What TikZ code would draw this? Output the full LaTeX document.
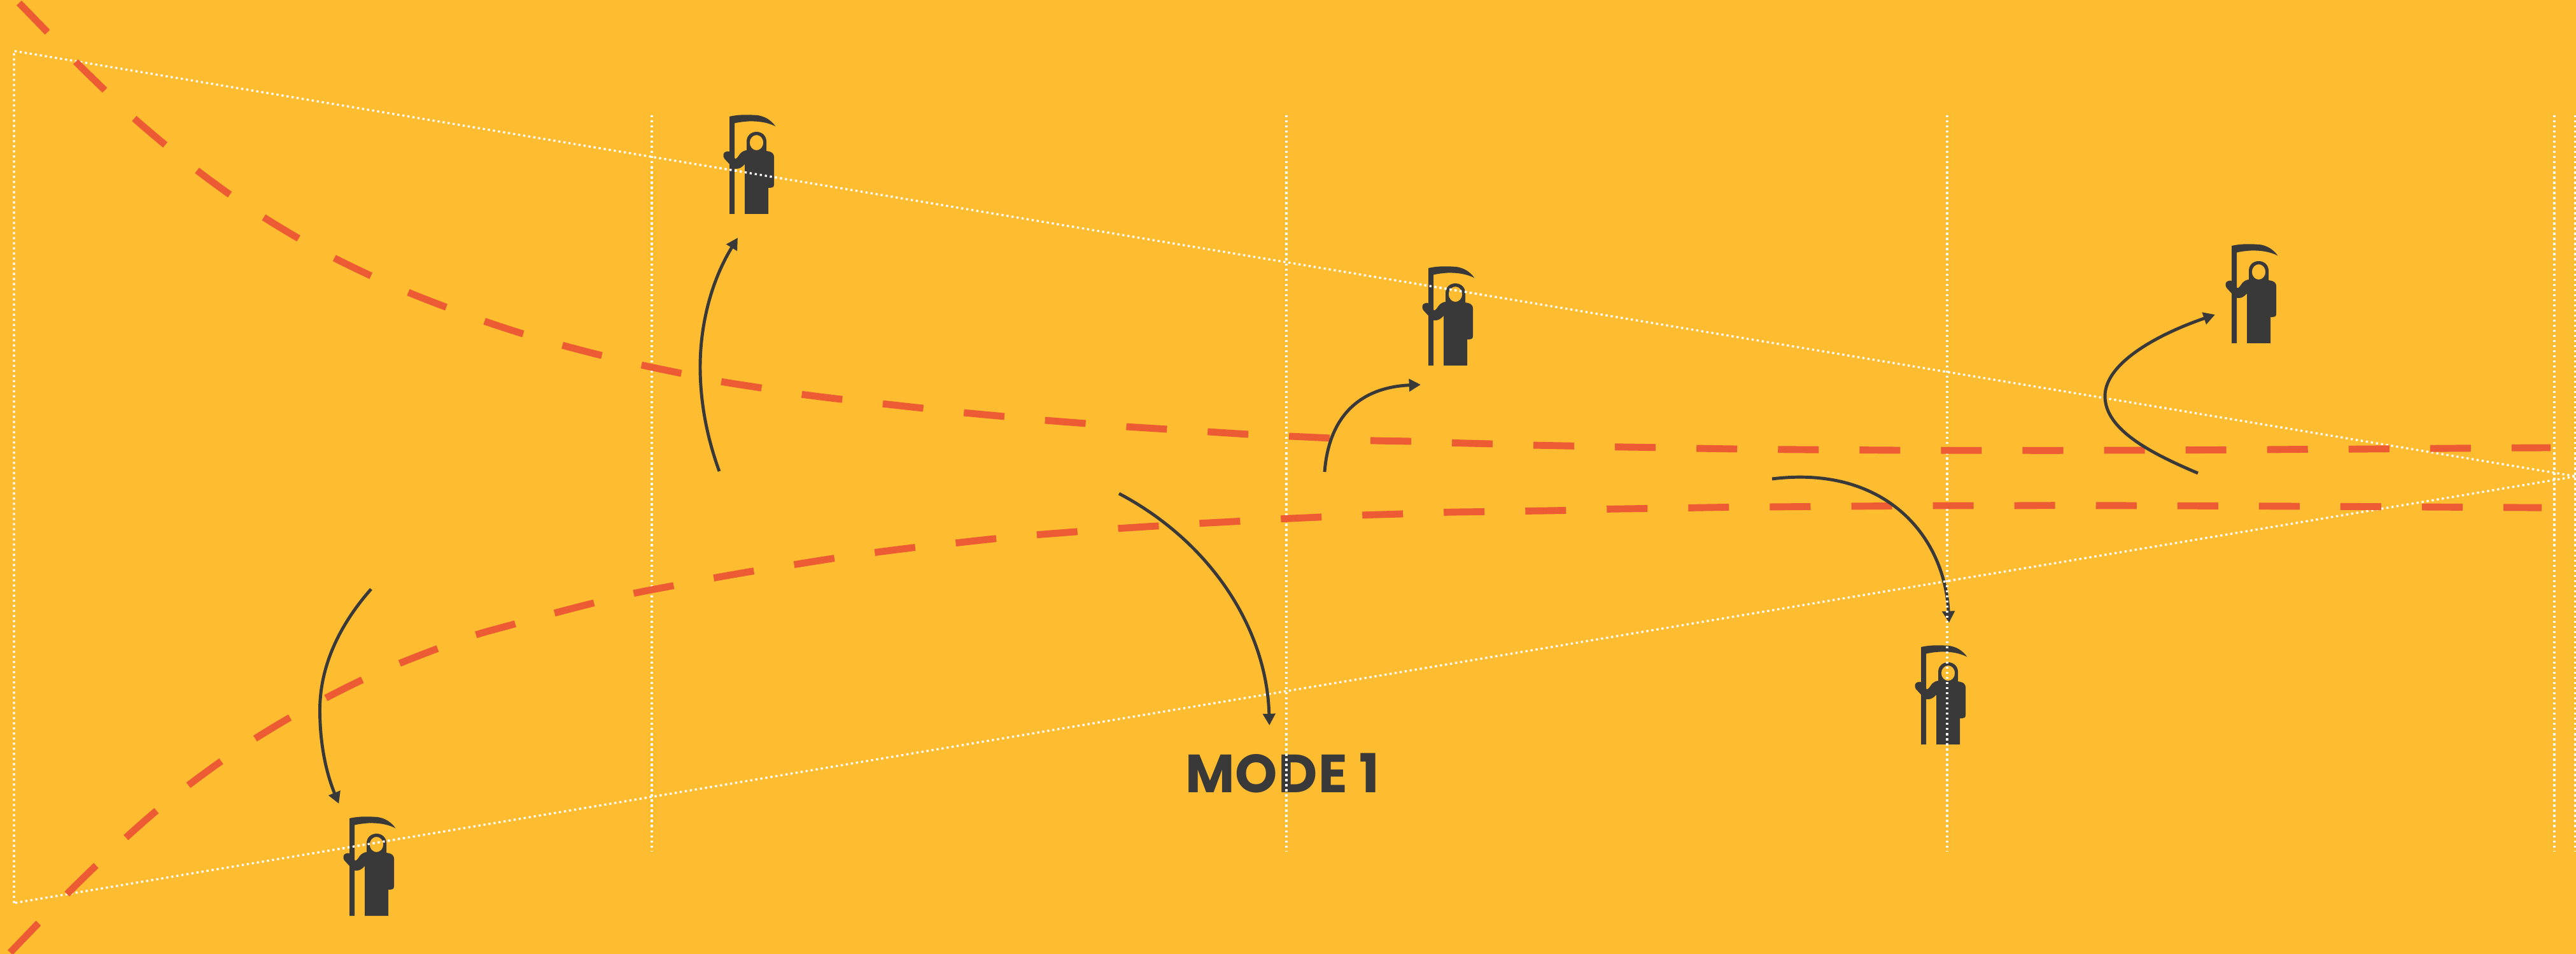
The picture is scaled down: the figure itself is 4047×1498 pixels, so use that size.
\documentclass[tikz,border=0pt]{standalone}
\usepackage{fontspec}
\usetikzlibrary{arrows.meta}
\newfontfamily\modefont{Poppins}[LetterSpace=1.5]
\definecolor{bgc}{HTML}{FEBD30}
\definecolor{redc}{HTML}{EC5B33}
\definecolor{darkc}{HTML}{393939}
\newcommand{\dotlines}{%
  \draw[dotline] (bl) -- (tl) -- (apex) -- (bl);
  \foreach \n in {v1,v2,v3,v4,v5}{\draw[dotline] (\n t) -- (\n b);}
}
\tikzset{
  dotline/.style={draw=white,line width=0.95pt,dash pattern=on 0.95pt off 1.33pt},
  redline/.style={draw=redc,line width=3.1pt,dash pattern=on 18.21pt off 18.21pt,line join=round},
  arrowline/.style={draw=darkc,line width=1.4pt,-{Triangle[length=5.2pt,width=5.4pt]}},
  reaper/.pic={
    \fill[darkc] (0,3) .. controls (15,-0.5) and (30,0) .. (44,1) .. controls (55,2.5) and (65,8) .. (72.5,18.5) .. controls (60,12) and (45,10) .. (30,10.5) .. controls (22,11) and (14,12) .. (8,13.5) -- (8,156) -- (0,156) -- cycle;
    \fill[darkc,even odd rule] (24,156) -- (24,78) .. controls (19,83) and (16,85) .. (11,85) .. controls (7,85) and (5,84) .. (3,81) -- (-8,69) .. controls (-11,65) and (-10,59) .. (-5,58) .. controls (-1,57) and (2,58) .. (4,62) -- (9,69.5) .. controls (12,69) and (14,65) .. (17,61) .. controls (20,58) and (24,56) .. (27,56) -- (27,42) .. controls (27,33) and (34,27) .. (42.5,27) .. controls (51,27) and (58,33) .. (58,42) -- (58,57) -- (63,58) .. controls (67,59) and (70,62) .. (70,66) -- (70,110) .. controls (70,114) and (67,115) .. (64,115) -- (61,115) -- (61,156) -- cycle
      (42.5,44) ellipse (10.7 and 12);
  }
}
\begin{document}
\begin{tikzpicture}[x=0.01cm,y=-0.01cm]
\useasboundingbox (0,0) rectangle (4047,1498);
\fill[bgc] (0,0) rectangle (4047,1498);

% dotted construction lines: below the red curves
\coordinate (tl) at (22,80); \coordinate (bl) at (22,1418); \coordinate (apex) at (4047,748);
\foreach \n/\x in {v1/1024,v2/2021,v3/3059,v4/4013,v5/4046}{
  \coordinate (\n t) at (\x,181); \coordinate (\n b) at (\x,1337);
}
\dotlines

% red dashed envelope curves
\draw[redline] plot[smooth,tension=0.5] coordinates {
 (30,4.7) (74,50) (119,97) (164,141) (211,186) (259,227) (309.4,267.5) (360.4,305) (414,341) (468,373.7)
 (525,405) (582,432.7) (640.5,458.7) (700,482) (760,504) (821,524) (883,542) (944.5,558) (1007,573) (1069,586)
 (1132,599) (1195,609) (1258,619) (1322,627) (1386,634) (1450,641) (1514,648) (1578,654) (1642,660) (1706,665)
 (1770,670) (1834,674) (1898,678) (1962,682) (2026,685) (2090,688) (2151,691.7) (2215,693) (2279,695.3) (2343,697)
 (2407,699) (2471,700.3) (2535,701.7) (2599,702.7) (2663,704) (2727,705) (2791,705.7) (2855,706.2) (2919,706.6) (2983,707)
 (3047,707.2) (3111,707.3) (3175,707.3) (3239,707.3) (3303,707) (3367,707) (3431,706.7) (3495,706.4) (3559,706) (3623,705.5)
 (3687,705.3) (3751,704.8) (3815,704.3) (3879,703.8) (3943,703.3) (4007,703)};
\draw[redline] plot[smooth,tension=0.5] coordinates {
 (16,1495.7) (60,1450) (105,1404) (150,1360) (197.5,1315.5) (245,1273.7) (296,1233) (348,1195) (402,1159) (455,1127)
 (512,1096) (568,1068) (627,1042) (686,1019) (747,997) (808,980) (870,963) (932,947) (994,932) (1056,920)
 (1119,908) (1182,897) (1245,887) (1308,877) (1371,868) (1434,860) (1498,853) (1562,846) (1626,840) (1690,835)
 (1754,830) (1817,826) (1881,822) (1945,818.6) (2009,815) (2073,812) (2137,809) (2201,807) (2265,804.5) (2329,803.5)
 (2393,802.5) (2457,801.5) (2521,799.5) (2585,798.5) (2649,797.5) (2713,796.5) (2777,796) (2841,795.5) (2905,795) (2969,794.5)
 (3033,794) (3097,794) (3161,794) (3225,793.7) (3289,793.8) (3353,794) (3417,794.2) (3481,794.4) (3545,794.7) (3609,795)
 (3673,795.3) (3737,795.6) (3801,796) (3865,796.4) (3929,796.8) (3993,797.2)};

% arrows
\coordinate (a1s) at (583,925);  \coordinate (a1m) at (502.5,1115); \coordinate (a1e) at (532.3,1262);
\coordinate (a2s) at (1130,740); \coordinate (a2m) at (1100,576);   \coordinate (a2e) at (1159,373.3);
\coordinate (a3s) at (2081,741); \coordinate (a3e) at (2232,604);
\coordinate (a4s) at (1758,775); \coordinate (a4e) at (1994.3,1139);
\coordinate (a5s) at (2784,752); \coordinate (a5e) at (3062,978);
\coordinate (a6s) at (3453,743); \coordinate (a6m) at (3307,622);   \coordinate (a6e) at (3480,494);
\draw[arrowline] (a1s) .. controls (530,985) and (502.5,1050) .. (a1m) .. controls (502.5,1170) and (513,1215) .. (a1e);
\draw[arrowline] (a2s) .. controls (1110,685) and (1100,630) .. (a2m) .. controls (1100,515) and (1115,445) .. (a2e);
\draw[arrowline] (a3s) .. controls (2088,650) and (2140,608) .. (a3e);
\draw[arrowline] (a4s) .. controls (1900,850) and (1990,985) .. (a4e);
\draw[arrowline] (a5s) .. controls (2960,730) and (3055,840) .. (a5e);
\draw[arrowline] (a6s) .. controls (3380,712) and (3307,675) .. (a6m) .. controls (3307,570) and (3390,525) .. (a6e);

% reaper icons
\pic (r1) at (1146,180) {reaper};
\pic (r2) at (2244,418) {reaper};
\pic (r3) at (3506,383) {reaper};
\pic (r4) at (3018,1013) {reaper};
\pic (r5) at (549,1282) {reaper};

\node[font=\modefont\bfseries\fontsize{24pt}{28pt}\selectfont,text=darkc,inner sep=0pt,anchor=center] (mode) at (2015,1214) {MODE 1};

% the dots also run over the icons, the text and one arrow tip
\begin{scope}
  \clip (1130,170) rectangle (1230,345)
        (2230,410) rectangle (2330,580)
        (3000,1005) rectangle (3105,1180)
        (530,1275) rectangle (640,1440)
        (1860,1175) rectangle (2170,1255)
        (3040,880) rectangle (3080,985);
  \dotlines
\end{scope}
\end{tikzpicture}
\end{document}
